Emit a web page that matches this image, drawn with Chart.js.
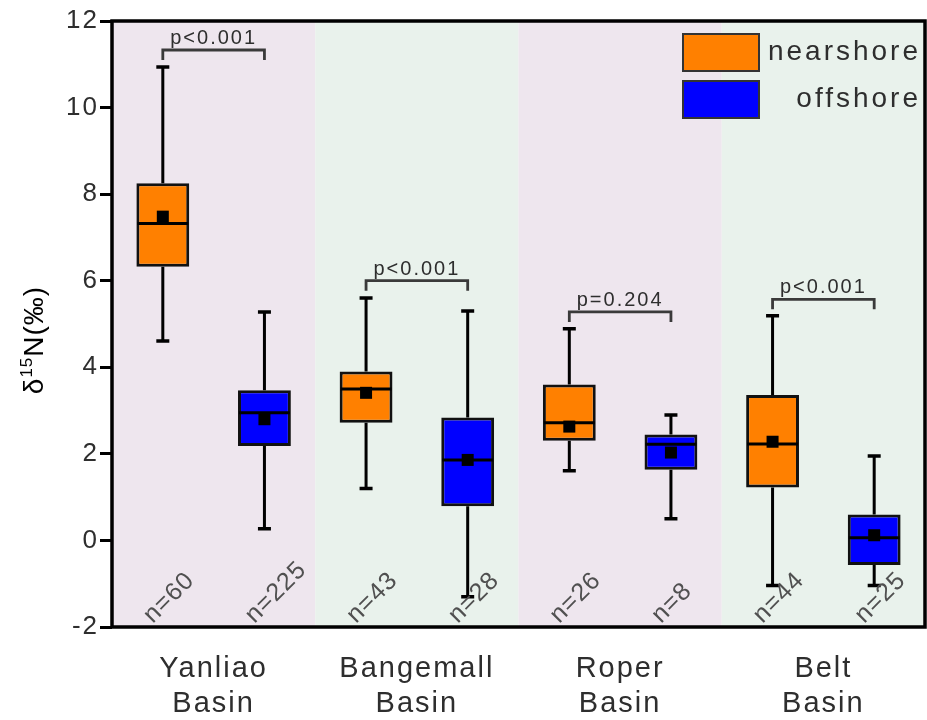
<!DOCTYPE html>
<html>
<head>
<meta charset="utf-8">
<script src="https://cdn.jsdelivr.net/npm/chart.js@4.4.0/dist/chart.umd.min.js"></script>
<style>
  body { margin: 0; background: #fff; }
  canvas { display: block; }
</style>
</head>
<body>
<canvas id="isotopeChart" width="927" height="720"></canvas>
<script>
// Basins and the summary stats
const categories = [['Yanliao', 'Basin'], ['Bangemall', 'Basin'], ['Roper', 'Basin'], ['Belt', 'Basin']];

const nearMin = [4.61, 1.20, 1.61, -1.04];
const nearQ1 = [6.32, 2.72, 2.30, 1.22];
const nearMedian = [7.32, 3.50, 2.72, 2.23];
const nearQ3 = [8.25, 3.90, 3.60, 3.36];
const nearMax = [10.94, 5.60, 4.89, 5.19];
const nearMean = [7.48, 3.41, 2.63, 2.28];
const nearN = [60, 43, 26, 44];

const offMin = [0.27, -1.30, 0.50, -1.04];
const offQ1 = [2.18, 0.79, 1.63, -0.57];
const offMedian = [2.95, 1.86, 2.22, 0.06];
const offQ3 = [3.47, 2.84, 2.45, 0.60];
const offMax = [5.28, 5.30, 2.90, 1.95];
const offMean = [2.80, 1.86, 2.03, 0.12];
const offN = [225, 28, 8, 25];

// significance brackets (height in per-mil)
const pLabels = ['p<0.001', 'p<0.001', 'p=0.204', 'p<0.001'];
const bracketY = [11.33, 6.0, 5.28, 5.57];

const bandColors = ['#EEE6EE', '#E9F2EC'];
const FONT = "'Liberation Sans', Arial, sans-serif";

function makeDataset(label, color, q1, q3, min, median, max, mean, n) {
    return {
        label: label,
        data: q1.map((v, i) => [v, q3[i]]),
        stats: { min: min, median: median, max: max, mean: mean, n: n },
        backgroundColor: color,
        borderColor: '#111',
        borderWidth: 3,
        borderSkipped: false,
        categoryPercentage: 1,
        barPercentage: 0.52
    };
}

const boxExtras = {
    id: 'boxExtras',
    beforeDraw(chart) {
        chart.ctx.letterSpacing = '2px';
    },
    beforeDatasetsDraw(chart) {
        const { ctx, chartArea: a, scales: { x } } = chart;
        const w = (a.right - a.left) / categories.length;
        ctx.save();
        categories.forEach((c, i) => {
            const cx = x.getPixelForValue(i);
            ctx.fillStyle = bandColors[i % 2];
            ctx.fillRect(cx - w / 2, a.top, w, a.bottom - a.top);
        });
        ctx.restore();
    },
    afterDatasetsDraw(chart) {
        const { ctx, chartArea: a, scales: { y } } = chart;
        ctx.save();
        chart.data.datasets.forEach((ds, d) => {
            const meta = chart.getDatasetMeta(d);
            const s = ds.stats;
            meta.data.forEach((el, i) => {
                const cx = el.x;
                const half = el.width / 2;
                const yQ1 = y.getPixelForValue(ds.data[i][0]);
                const yQ3 = y.getPixelForValue(ds.data[i][1]);
                const yMin = y.getPixelForValue(s.min[i]);
                const yMax = y.getPixelForValue(s.max[i]);
                // whiskers + caps
                ctx.strokeStyle = '#000';
                ctx.lineWidth = 3;
                ctx.beginPath();
                ctx.moveTo(cx, yQ3); ctx.lineTo(cx, yMax);
                ctx.moveTo(cx, yQ1); ctx.lineTo(cx, yMin);
                ctx.stroke();
                ctx.lineWidth = 3.5;
                ctx.beginPath();
                ctx.moveTo(cx - 6.5, yMax); ctx.lineTo(cx + 6.5, yMax);
                ctx.moveTo(cx - 6.5, yMin); ctx.lineTo(cx + 6.5, yMin);
                ctx.stroke();
                // median
                const yMed = y.getPixelForValue(s.median[i]);
                ctx.lineWidth = 3;
                ctx.beginPath();
                ctx.moveTo(cx - half + 1, yMed); ctx.lineTo(cx + half - 1, yMed);
                ctx.stroke();
                // mean
                const yMean = y.getPixelForValue(s.mean[i]);
                ctx.fillStyle = '#000';
                ctx.fillRect(cx - 6, yMean - 6, 12, 12);
                // sample size
                ctx.save();
                ctx.translate(cx - 10, a.bottom - 3);
                ctx.rotate(-Math.PI / 4);
                ctx.font = '25px ' + FONT;
                ctx.letterSpacing = '1px';
                ctx.fillStyle = '#505050';
                ctx.textAlign = 'left';
                ctx.textBaseline = 'alphabetic';
                ctx.fillText('n=' + s.n[i], 0, 0);
                ctx.restore();
            });
        });

        // p-value brackets
        const near = chart.getDatasetMeta(0).data;
        const off = chart.getDatasetMeta(1).data;
        pLabels.forEach((p, i) => {
            const x1 = near[i].x, x2 = off[i].x;
            const yb = y.getPixelForValue(bracketY[i]);
            ctx.strokeStyle = '#3a3a3a';
            ctx.lineWidth = 2.8;
            ctx.beginPath();
            ctx.moveTo(x1, yb + 10); ctx.lineTo(x1, yb); ctx.lineTo(x2, yb); ctx.lineTo(x2, yb + 10);
            ctx.stroke();
            ctx.font = '20px ' + FONT;
            ctx.letterSpacing = '2px';
            ctx.fillStyle = '#2e2e2e';
            ctx.textAlign = 'center';
            ctx.textBaseline = 'alphabetic';
            ctx.fillText(p, (x1 + x2) / 2, yb - 6);
        });
        ctx.restore();
    },
    afterDraw(chart) {
        const { ctx, chartArea: a } = chart;
        ctx.save();
        // frame
        ctx.strokeStyle = '#000';
        ctx.lineWidth = 3.5;
        ctx.strokeRect(a.left, a.top, a.right - a.left, a.bottom - a.top);

        // legend
        const boxL = a.right - 242;
        chart.data.datasets.forEach((ds, d) => {
            const top = a.top + 13 + d * 47;
            ctx.fillStyle = ds.backgroundColor;
            ctx.fillRect(boxL, top, 76, 37);
            ctx.strokeStyle = '#333';
            ctx.lineWidth = 2;
            ctx.strokeRect(boxL, top, 76, 37);
            ctx.font = '28px ' + FONT;
            ctx.letterSpacing = '3px';
            ctx.fillStyle = '#2e2e2e';
            ctx.textAlign = 'right';
            ctx.textBaseline = 'middle';
            ctx.fillText(ds.label, a.right - 4, top + 18);
        });

        // y axis title with superscript
        ctx.translate(43, 340);
        ctx.rotate(-Math.PI / 2);
        ctx.fillStyle = '#000';
        ctx.letterSpacing = '1px';
        ctx.textAlign = 'left';
        ctx.textBaseline = 'alphabetic';
        const big = '28px ' + FONT, small = '17px ' + FONT;
        ctx.font = big;
        const w1 = ctx.measureText('\u03B4').width;
        const w3 = ctx.measureText('N(\u2030)').width;
        ctx.font = small;
        const w2 = ctx.measureText('15').width;
        let xs = -(w1 + w2 + w3) / 2;
        ctx.font = big;
        ctx.fillText('\u03B4', xs, 0);
        xs += w1;
        ctx.font = small;
        ctx.fillText('15', xs, -11);
        xs += w2;
        ctx.font = big;
        ctx.fillText('N(\u2030)', xs, 0);
        ctx.restore();
    }
};

const ctx = document.getElementById('isotopeChart').getContext('2d');
new Chart(ctx, {
    type: 'bar',
    data: {
        labels: categories,
        datasets: [
            makeDataset('nearshore', '#FF8000', nearQ1, nearQ3, nearMin, nearMedian, nearMax, nearMean, nearN),
            makeDataset('offshore', '#0000FF', offQ1, offQ3, offMin, offMedian, offMax, offMean, offN)
        ]
    },
    options: {
        responsive: false,
        animation: false,
        layout: { padding: { top: 21, right: 2, left: 0, bottom: 0 } },
        plugins: {
            legend: { display: false },
            tooltip: { enabled: false }
        },
        scales: {
            x: {
                grid: { display: false, drawTicks: false },
                border: { display: false },
                ticks: {
                    color: '#2e2e2e',
                    padding: 24,
                    font: { family: FONT, size: 29, lineHeight: 1.22 }
                },
                afterFit: s => { s.height = 93; }
            },
            y: {
                min: -2,
                max: 12,
                grid: {
                    drawOnChartArea: false,
                    drawTicks: true,
                    tickLength: 12,
                    tickWidth: 3,
                    tickColor: '#000'
                },
                border: { display: false },
                ticks: {
                    stepSize: 2,
                    color: '#2e2e2e',
                    padding: 1,
                    font: { family: FONT, size: 26 }
                },
                afterFit: s => { s.width = 112; }
            }
        }
    },
    plugins: [boxExtras]
});
</script>
</body>
</html>
